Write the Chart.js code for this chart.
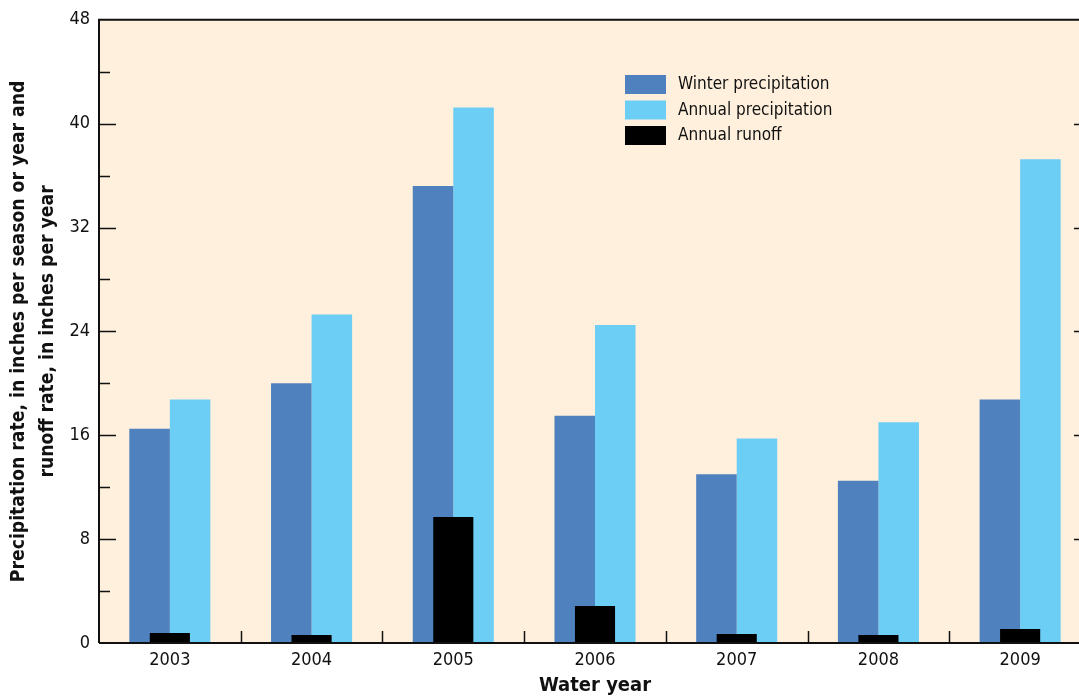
<!DOCTYPE html>
<html>
<head>
	<title>Precipitation and runoff</title>
	<script src="https://cdn.jsdelivr.net/npm/chart.js"></script>
	<style>
		html, body { margin: 0; padding: 0; background: #fff; overflow: hidden; }
		#wrap { position: absolute; left: 0; top: 0; width: 1092px; height: 696px; }
	</style>
</head>
<body>
<div id="wrap"><canvas id="myChart"></canvas></div>
<script>
// values (inches)
var years = ['2003', '2004', '2005', '2006', '2007', '2008', '2009'];
var winterPrecip = [16.5, 20.0, 35.2, 17.5, 13.0, 12.5, 18.75];
var annualPrecip = [18.75, 25.3, 41.25, 24.5, 15.75, 17.0, 37.25];
var annualRunoff = [0.77, 0.62, 9.7, 2.85, 0.7, 0.62, 1.08];
var yTicks = [0, 8, 16, 24, 32, 40, 48];

var FONT = "'Liberation Sans Narrow', 'DejaVu Sans Condensed', 'Liberation Sans', sans-serif";
var bgColor = '#fef0dc';

// background, frame, inside ticks and legend
var framePlugin = {
	id: 'frame',
	beforeDraw: function(chart) {
		var a = chart.chartArea, ctx = chart.ctx;
		ctx.save();
		ctx.fillStyle = bgColor;
		ctx.fillRect(a.left, a.top, a.right - a.left, a.bottom - a.top);
		ctx.restore();
	},
	afterDraw: function(chart) {
		var a = chart.chartArea, ctx = chart.ctx;
		var ys = chart.scales.y, xs = chart.scales.x;
		ctx.save();
		ctx.strokeStyle = '#111';
		ctx.lineWidth = 2;
		ctx.beginPath();
		ctx.moveTo(a.left, a.bottom);
		ctx.lineTo(a.left, a.top);
		ctx.lineTo(a.right, a.top);
		ctx.lineTo(a.right, a.bottom);
		ctx.lineTo(a.left, a.bottom);
		ctx.stroke();

		// y ticks, major every 8, minor every 4, on both sides pointing in
		ctx.lineWidth = 1.5;
		for (var v = 4; v < 48; v += 4) {
			var py = Math.round(ys.getPixelForValue(v)) + 0.5;
			var len = (v % 8 === 0) ? 17 : 11;
			ctx.beginPath();
			ctx.moveTo(a.left, py); ctx.lineTo(a.left + len, py);
			ctx.moveTo(a.right, py); ctx.lineTo(a.right - len, py);
			ctx.stroke();
		}
		// x ticks between categories
		for (var i = 0; i < years.length - 1; i++) {
			var px = (xs.getPixelForValue(i) + xs.getPixelForValue(i + 1)) / 2;
			px = Math.round(px) + 0.5;
			ctx.beginPath();
			ctx.moveTo(px, a.bottom); ctx.lineTo(px, a.bottom - 12);
			ctx.stroke();
		}

		// legend
		var lx = 625, ly = 75;
		ctx.font = '17px ' + FONT;
		ctx.textBaseline = 'middle';
		ctx.textAlign = 'left';
		chart.data.datasets.forEach(function(ds, k) {
			var y0 = ly + k * 25.5;
			ctx.fillStyle = ds.backgroundColor;
			ctx.fillRect(lx, y0, 41, 19);
			ctx.fillStyle = '#111';
			ctx.fillText(ds.label, lx + 53, y0 + 10);
		});
		ctx.restore();
	}
};

var ctx = document.getElementById('myChart');
var myChart = new Chart(ctx, {
	type: 'bar',
	data: {
		labels: years,
		datasets: [
			{
				label: 'Winter precipitation',
				data: winterPrecip,
				backgroundColor: '#4f81be',
				categoryPercentage: 0.572,
				barPercentage: 1
			},
			{
				label: 'Annual precipitation',
				data: annualPrecip,
				backgroundColor: '#6dcef5',
				categoryPercentage: 0.572,
				barPercentage: 1
			},
			{
				label: 'Annual runoff',
				data: annualRunoff,
				backgroundColor: '#000000',
				grouped: false,
				order: -1,
				categoryPercentage: 0.283,
				barPercentage: 1
			}
		]
	},
	options: {
		responsive: true,
		maintainAspectRatio: false,
		animation: false,
		layout: { padding: { top: 18, right: 1, left: 0, bottom: 0 } },
		plugins: {
			legend: { display: false },
			tooltip: { enabled: false }
		},
		scales: {
			x: {
				grid: { display: false, drawTicks: false },
				border: { display: false },
				ticks: {
					color: '#111',
					padding: 7,
					font: { family: FONT, size: 18 }
				},
				title: {
					display: true,
					text: 'Water year',
					color: '#111',
					padding: { top: 0, bottom: 0 },
					font: { family: FONT, size: 20, weight: 'bold', lineHeight: 1 }
				},
				afterFit: function(s) { s.height = 53; }
			},
			y: {
				min: 0,
				max: 48,
				afterBuildTicks: function(s) {
					s.ticks = yTicks.map(function(v) { return { value: v }; });
				},
				grid: { display: false, drawTicks: false },
				border: { display: false },
				ticks: {
					color: '#111',
					padding: 9,
					font: { family: FONT, size: 18 }
				},
				title: {
					display: true,
					text: ['Precipitation rate, in inches per season or year and', 'runoff rate, in inches per year'],
					color: '#111',
					padding: { top: 5, bottom: 0 },
					font: { family: FONT, size: 19.2, weight: 'bold', lineHeight: 1.5 }
				},
				afterFit: function(s) { s.width = 99; }
			}
		}
	},
	plugins: [framePlugin]
});
</script>
</body>
</html>
